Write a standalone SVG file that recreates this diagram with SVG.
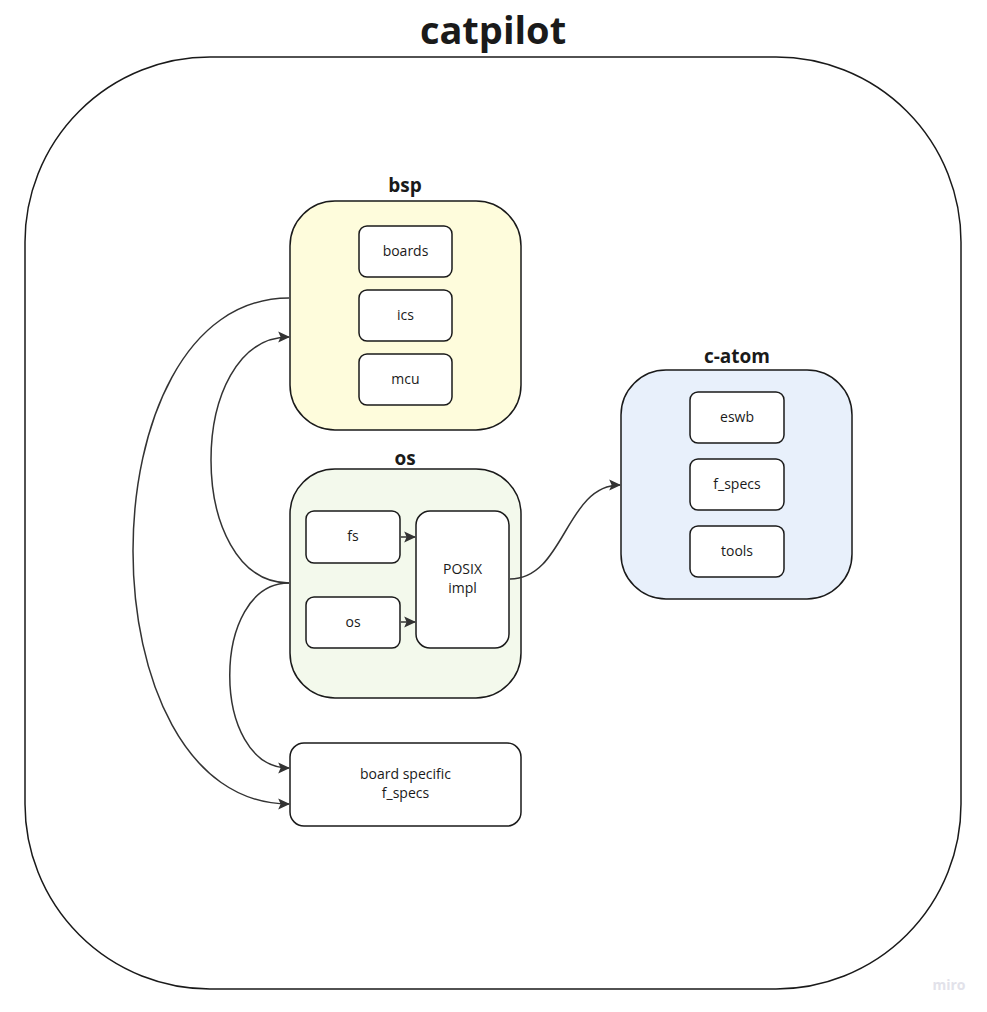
<svg xmlns="http://www.w3.org/2000/svg" width="987" height="1012" viewBox="0 0 987 1012">
<defs>
<marker id="arr" viewBox="0 0 10 10" refX="9" refY="5" markerWidth="12" markerHeight="12" markerUnits="userSpaceOnUse" orient="auto">
<path d="M0,0.5 L10,5 L0,9.5 L2,5 Z" fill="#333333"/>
</marker>
</defs>
<style>
.box{stroke:#1a1a1a;stroke-width:1.5}
.w{fill:#ffffff}
.t{font-family:"Open Sans","Noto Sans","DejaVu Sans",sans-serif;font-size:14px;fill:#1a1a1a;text-anchor:middle}
.h{font-family:"Open Sans","Noto Sans","DejaVu Sans",sans-serif;font-size:19px;font-weight:bold;fill:#1a1a1a;text-anchor:middle}
.c{fill:none;stroke:#333333;stroke-width:1.5}
</style>
<rect width="987" height="1012" fill="#ffffff"/>
<g id="catpilot">
<rect class="box" x="25" y="57" width="936" height="932" rx="185" fill="#ffffff"/>
<text x="493" y="44" font-family="'Open Sans','Noto Sans','DejaVu Sans',sans-serif" font-size="38" font-weight="bold" fill="#1a1a1a" text-anchor="middle">catpilot</text>
</g>
<g id="bsp">
<text class="h" x="405" y="192">bsp</text>
<rect class="box" x="290" y="201" width="231" height="229" rx="45" fill="#fefcdc"/>
</g>
<g id="boards"><rect class="box w" x="359" y="226" width="93" height="51" rx="8"/><text class="t" x="405.5" y="256">boards</text></g>
<g id="ics"><rect class="box w" x="359" y="290" width="93" height="51" rx="8"/><text class="t" x="405.5" y="320">ics</text></g>
<g id="mcu"><rect class="box w" x="359" y="354" width="93" height="51" rx="8"/><text class="t" x="405.5" y="384">mcu</text></g>
<g id="os-group">
<text class="h" x="405" y="465">os</text>
<rect class="box" x="290" y="469" width="231" height="229" rx="45" fill="#f3f9ec"/>
</g>
<g id="fs"><rect class="box w" x="306" y="511" width="94" height="52" rx="8"/><text class="t" x="353" y="541">fs</text></g>
<g id="os"><rect class="box w" x="306" y="597" width="94" height="51" rx="8"/><text class="t" x="353" y="627">os</text></g>
<g id="posix"><rect class="box w" x="416" y="511" width="93" height="137" rx="14"/><text class="t" x="462.5" y="574">POSIX</text><text class="t" x="462.5" y="593">impl</text></g>
<g id="c-atom">
<text class="h" x="737" y="363">c-atom</text>
<rect class="box" x="621" y="370" width="231" height="229" rx="45" fill="#e8f0fb"/>
</g>
<g id="eswb"><rect class="box w" x="690" y="392" width="94" height="51" rx="8"/><text class="t" x="737" y="422">eswb</text></g>
<g id="f_specs"><rect class="box w" x="690" y="459" width="94" height="51" rx="8"/><text class="t" x="737" y="489">f_specs</text></g>
<g id="tools"><rect class="box w" x="690" y="526" width="94" height="51" rx="8"/><text class="t" x="737" y="556">tools</text></g>
<g id="board-specific"><rect class="box w" x="290" y="743" width="231" height="83" rx="14"/><text class="t" x="405.5" y="779">board specific</text><text class="t" x="405.5" y="798">f_specs</text></g>
<g id="connectors">
<path class="c" d="M289,298 C81,298 81,804 289,804" marker-end="url(#arr)"/>
<path class="c" d="M289,583 C185,583 185,337 289,337" marker-end="url(#arr)"/>
<path class="c" d="M289,583 C210,583 210,768 289,768" marker-end="url(#arr)"/>
<path class="c" d="M510,579 C565,579 565,485 620,485" marker-end="url(#arr)"/>
<path class="c" d="M401,537 L415,537" marker-end="url(#arr)"/>
<path class="c" d="M401,622 L415,622" marker-end="url(#arr)"/>
</g>
<text x="949" y="990" font-family="'Open Sans','Noto Sans',sans-serif" font-size="14" font-weight="bold" fill="#e2e2ea" text-anchor="middle">miro</text>
</svg>
